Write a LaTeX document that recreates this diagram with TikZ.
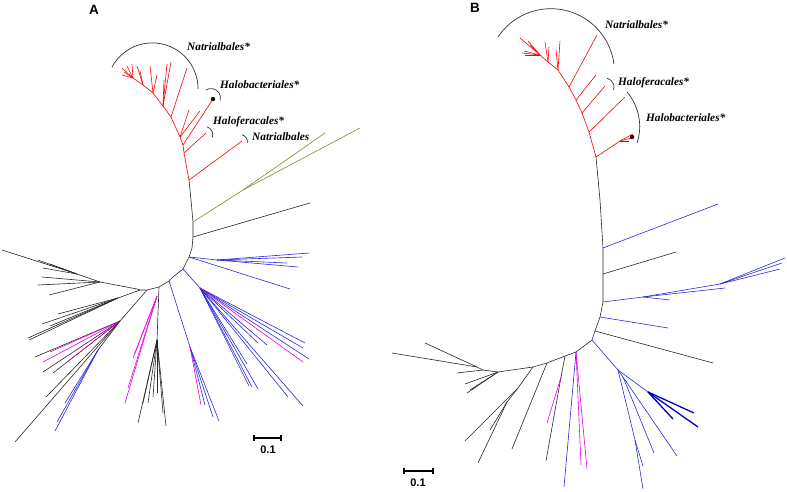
\documentclass[tikz,border=0pt]{standalone}
\usepackage{fontspec}
\setmainfont{Liberation Serif}
\setsansfont{Liberation Sans}
\definecolor{leafgreen}{RGB}{128,140,40}
\definecolor{treeblue}{RGB}{40,40,220}
\definecolor{treepink}{RGB}{230,0,230}

\begin{document}
\begin{tikzpicture}[x=1pt, y=-1pt,
  blk/.style={draw=black!85, line width=0.6pt},
  redbr/.style={draw=red, line width=0.6pt},
  blubr/.style={draw=treeblue, line width=0.6pt},
  blthick/.style={draw=blue!75!black, line width=1.3pt},
  pnkbr/.style={draw=treepink, line width=0.6pt},
  olvbr/.style={draw=leafgreen, line width=0.6pt},
  brk/.style={draw=black!80, line width=0.7pt},
  clade/.style={font=\fontsize{11.3}{13}\selectfont\bfseries\itshape, anchor=west, inner sep=0pt},
  panel/.style={font=\sffamily\bfseries\fontsize{13.5}{15}\selectfont, inner sep=0pt},
  scl/.style={font=\sffamily\bfseries\fontsize{11}{13}\selectfont, inner sep=0pt},
  bar/.style={line width=1.2pt}
]
\useasboundingbox (0,0) rectangle (787,492);

% ---------- panel A ----------
\node[panel] (labA) at (94,10) {A};

% backbone
\coordinate (aR0) at (189,180);
\draw[blk] (aR0) -- (191,200) -- (193,222) coordinate (aO) -- (193,237) coordinate (aK)
  -- (192,248) -- (189,257) coordinate (aB1) -- (183,269) coordinate (aB2) -- (173,277)
  -- (169,281) coordinate (aB3) -- (159,287) coordinate (aP) -- (147,290) coordinate (aL2)
  -- (140,290) coordinate (aL1) -- (137,289) coordinate (aL0);

% red clade
\draw[redbr] (aR0) -- (184,153) coordinate (aR1) -- (183,145) coordinate (aR2) -- (180,137) coordinate (aR3)
  -- (171,117) coordinate (aR4) -- (163,106) coordinate (aR5) -- (153,93) coordinate (aR6)
  -- (143,85) coordinate (aR7) -- (133,78) coordinate (aR8) -- (122,68);
\draw[redbr] (aR0) -- (242,141);
\draw[redbr] (aR1) -- (206,133);
\draw[redbr] (aR2) -- (213,99) coordinate (aDot);
\draw[redbr] (aR3) -- (200,111);
\draw[redbr] (aR3) -- (189,110);
\draw[redbr] (aR4) -- (187,68);
\draw[redbr] (aR5) -- (171,62);
\draw[redbr] (aR5) -- (167,64);
\draw[redbr] (aR5) -- (164,80);
\draw[redbr] (aR6) -- (157,75);
\draw[redbr] (aR6) -- (150,66);
\draw[redbr] (aR7) -- (137,66);
\draw[redbr] (aR7) -- (140,71);
\draw[redbr] (aR8) -- (132,64);
\draw[redbr] (aR8) -- (127,66);
\draw[redbr] (aR8) -- (124,72);
\draw[redbr] (aR8) -- (122,75);
\fill (aDot) circle (2.2);

% olive and black branches
\draw[olvbr] (aO) -- (243,190) coordinate (aO1) -- (360,128);
\draw[olvbr] (aO1) -- (325,133);
\draw[blk] (aK) -- (310,203);

% blue fan, upper right
\draw[blubr] (aB1) -- (217,260) coordinate (aB1a) -- (309,253);
\draw[blubr] (aB1a) -- (302,257);
\draw[blubr] (aB1a) -- (287,263);
\draw[blubr] (aB1a) -- (298,267);
\draw[blubr] (aB1) -- (290,289);

% blue fan, lower right
\draw[blubr] (aB2) -- (200,288) coordinate (aB2a);
\foreach \tip in {(305,343),(303,348),(309,359),(303,406),(288,397),(267,345),(258,343),(247,364),(258,389),(252,387),(249,386)}
  \draw[blubr] (aB2a) -- \tip;
\draw[pnkbr] (aB2a) -- (303,362);

% blue and pink, bottom
\draw[blubr] (aB3) -- (190,347) coordinate (aB3a) -- (219,421);
\draw[blubr] (aB3a) -- (213,417);
\draw[blubr] (aB3a) -- (205,405);
\draw[pnkbr] (aB3a) -- (201,405);

% black and pink, bottom centre
\draw[blk] (aP) -- (157,340) coordinate (aPa);
\foreach \tip in {(138,423),(143,403),(148,403),(153,397),(157,393),(163,413),(166,426)}
  \draw[blk] (aPa) -- \tip;
\coordinate (aPb) at (157,296);
\foreach \tip in {(125,403),(128,388),(133,358),(135,353)}
  \draw[pnkbr] (aPb) -- \tip;

% left clades
\draw[blk] (aL2) -- (120,321) coordinate (aL2a) -- (15,442);
\foreach \tip in {(35,357),(43,372),(53,373),(46,397)}
  \draw[blk] (aL2a) -- \tip;
\foreach \tip in {(43,362),(50,352),(67,362)}
  \draw[pnkbr] (aL2a) -- \tip;
\draw[blk] (aL2a) -- (98,350) coordinate (aL2b);
\foreach \tip in {(55,431),(57,422),(65,403)}
  \draw[blubr] (aL2b) -- \tip;

\draw[blk] (aL1) -- (118,298) coordinate (aL1a);
\foreach \tip in {(58,314),(42,324),(50,326),(29,340),(28,338)}
  \draw[blk] (aL1a) -- \tip;

\draw[blk] (aL0) -- (100,282) coordinate (aL0a) -- (77,274) coordinate (aL0b) -- (2,250);
\foreach \tip in {(38,260),(43,268),(50,264)}
  \draw[blk] (aL0b) -- \tip;
\foreach \tip in {(38,285),(49,295),(42,277)}
  \draw[blk] (aL0a) -- \tip;

% clade brackets and names
\draw[brk] (152.3,88.6) ++(-152:45.7) arc[start angle=-152, end angle=0.5, radius=45.7];
\draw[brk] (211,98) ++(-122:9.5) arc[start angle=-122, end angle=14, radius=9.5];
\draw[brk] (204,135) ++(-70:8.8) arc[start angle=-70, end angle=15, radius=8.8];
\draw[brk] (240,142) ++(-75:7.5) arc[start angle=-75, end angle=5, radius=7.5];
\node[clade] (aNat) at (187,47) {Natrialbales*};
\node[clade] (aHbac) at (220,85) {Halobacteriales*};
\node[clade] (aHfer) at (213,122) {Haloferacales*};
\node[clade] (aNat2) at (252,137) {Natrialbales};

% scale
\coordinate (aS1) at (254,438);
\coordinate (aS2) at (281,438);
\draw[bar] (aS1) -- (aS2);
\draw[bar] ([yshift=3pt]aS1) -- ([yshift=-3pt]aS1);
\draw[bar] ([yshift=3pt]aS2) -- ([yshift=-3pt]aS2);
\node[scl] (aScale) at (268,450) {0.1};

% ---------- panel B ----------
\node[panel] (labB) at (475,8) {B};

% red clade
\coordinate (bR0) at (596,157);
\draw[redbr] (bR0) -- (589,132) coordinate (bR1) -- (582,113) coordinate (bR2) -- (576,100) coordinate (bR3)
  -- (569,87) coordinate (bR4) -- (558,70) coordinate (bR5) -- (548,62) coordinate (bR6)
  -- (540,55) coordinate (bR7) -- (520,38);
\draw[redbr] (bR0) -- (620,141) coordinate (bR0a) -- (633,134);
\draw[redbr] (bR0a) -- (631,138);
\draw[redbr] (bR0a) -- (629,141);
\draw[redbr] (bR1) -- (625,97);
\draw[redbr] (bR2) -- (605,86);
\draw[redbr] (bR3) -- (596,75);
\draw[redbr] (bR4) -- (597,35);
\draw[redbr] (bR5) -- (560,41);
\draw[redbr] (bR5) -- (556,50);
\draw[redbr] (bR6) -- (545,42);
\draw[redbr] (bR6) -- (549,47);
\foreach \tip in {(528,41),(530,45),(522,53),(525,55),(524,51)}
  \draw[redbr] (bR7) -- \tip;
\coordinate (bDot) at (632,137);
\fill (bDot) circle (2.2);

% backbone
\draw[blk] (bR0) -- (600,200) -- (603,248) coordinate (bK1) -- (603,274) coordinate (bK2)
  -- (603,302) coordinate (bK3) -- (600,317) coordinate (bK4) -- (595,331) coordinate (bK5)
  -- (592,340) coordinate (bK6) -- (576,352) coordinate (bK7) -- (565,356) coordinate (bK8)
  -- (547,363) coordinate (bK9) -- (533,367) coordinate (bK10) -- (498,372) coordinate (bK11)
  -- (483,370) coordinate (bK12);

% right side
\draw[blubr] (bK1) -- (718,204);
\draw[blk] (bK2) -- (676,252);
\draw[blubr] (bK3) -- (643,297) coordinate (bK3a) -- (670,300);
\draw[blubr] (bK3a) -- (725,288);
\draw[blubr] (bK3a) -- (720,284) coordinate (bK3b) -- (785,258);
\draw[blubr] (bK3b) -- (782,263);
\draw[blubr] (bK3b) -- (780,269);
\draw[blubr] (bK4) -- (668,328);
\draw[blk] (bK5) -- (713,363);

% blue clade, lower right
\draw[blubr] (bK6) -- (618,370) coordinate (bK6a) -- (648,392) coordinate (bK6b);
\draw[blthick] (bK6b) -- (694,413);
\draw[blthick] (bK6b) -- (698,427);
\draw[blthick] (bK6b) -- (673,419);
\draw[blubr] (bK6a) -- (623,377) coordinate (bK6c) -- (677,456);
\draw[blubr] (bK6c) -- (654,453);
\draw[blubr] (bK6a) -- (635,440) coordinate (bK6d) -- (643,466);
\draw[blubr] (bK6d) -- (643,489);

% bottom
\draw[pnkbr] (bK7) -- (587,469);
\draw[pnkbr] (bK7) -- (581,465);
\draw[blubr] (bK7) -- (564,487);
\draw[blk] (bK8) -- (561,377) coordinate (bK8a) -- (546,461);
\draw[pnkbr] (bK8a) -- (547,423);
\draw[blk] (bK9) -- (512,449);
\draw[blk] (bK10) -- (518,388) coordinate (bK10a) -- (465,441);
\draw[blk] (bK10a) -- (507,402) coordinate (bK10b) -- (478,463);
\draw[blk] (bK10b) -- (490,430);
\foreach \tip in {(465,384),(467,393),(470,390)}
  \draw[blk] (bK11) -- \tip;
\draw[blk] (bK12) -- (477,367) coordinate (bK12a) -- (392,353);
\draw[blk] (bK12a) -- (425,343);
\draw[blk] (bK12) -- (457,373);

% clade brackets and names
\draw[brk] (550.9,72.3) ++(-146.3:63.6) arc[start angle=-146.3, end angle=-7.5, radius=63.6];
\draw[brk] (605,87) ++(-77:9) arc[start angle=-77, end angle=20, radius=9];
\draw[brk] (586.7,126.4) ++(-40.5:53) arc[start angle=-40.5, end angle=18.3, radius=53];
\node[clade] (bNat) at (605,25) {Natrialbales*};
\node[clade] (bHfer) at (618,83) {Haloferacales*};
\node[clade] (bHbac) at (646,118) {Halobacteriales*};

% scale
\coordinate (bS1) at (404,471);
\coordinate (bS2) at (433,471);
\draw[bar] (bS1) -- (bS2);
\draw[bar] ([yshift=3pt]bS1) -- ([yshift=-3pt]bS1);
\draw[bar] ([yshift=3pt]bS2) -- ([yshift=-3pt]bS2);
\node[scl] (bScale) at (418,483) {0.1};
\end{tikzpicture}
\end{document}
